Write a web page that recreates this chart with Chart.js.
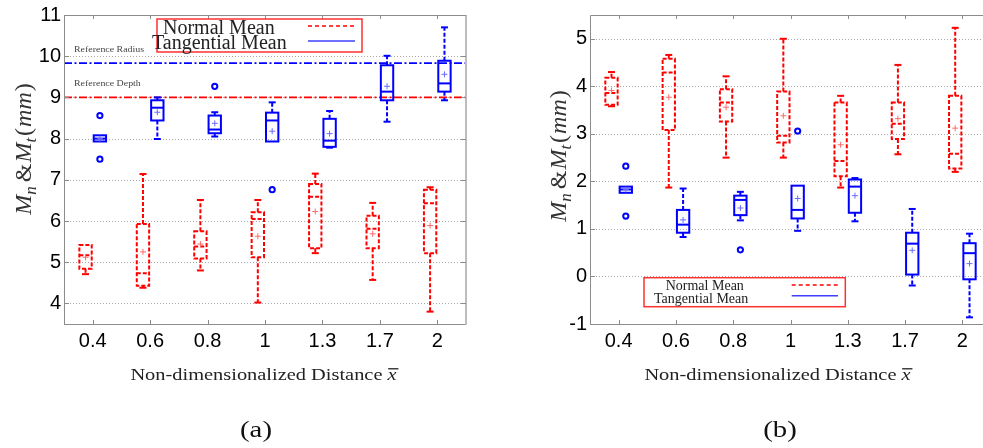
<!DOCTYPE html>
<html><head><meta charset="utf-8">
<script src="https://cdn.jsdelivr.net/npm/chart.js@4.4.0/dist/chart.umd.min.js"></script>
<style>
html,body{margin:0;padding:0;background:#fff;overflow:hidden;width:983px;height:448px;position:relative;}
#ca{position:absolute;left:0;top:0;}
#cb{position:absolute;left:490px;top:0;}
</style></head><body>
<canvas id="ca" width="490" height="448"></canvas>
<canvas id="cb" width="510" height="448"></canvas>
<script>
// ---------- DATA ----------
const categories = ['0.4','0.6','0.8','1','1.3','1.7','2'];

// panel (a): each entry [min, q1, median, q3, max]
const aNormalBox = [[4.71,4.84,5.17,5.42,5.43],[4.38,4.43,4.73,5.93,7.14],[4.80,5.09,5.38,5.75,6.51],[4.02,5.12,6.05,6.21,6.51],[5.22,5.34,6.59,6.90,7.15],[4.57,5.34,5.81,6.13,6.44],[3.80,5.22,6.43,6.76,6.82]];
const aNormalMean = [5.12,5.25,5.44,5.63,6.23,5.69,5.89];
const aNormalOutliers = [[],[],[],[],[],[],[]];
const aTangBox = [[7.93,7.93,8.00,8.08,8.08],[7.99,8.44,8.75,8.93,9.00],[8.05,8.13,8.22,8.56,8.64],[7.93,7.93,8.44,8.63,8.88],[7.78,7.80,7.95,8.48,8.67],[8.41,8.93,9.14,9.78,10.01],[8.93,9.14,9.34,9.89,10.70]];
const aTangMean = [8.00,8.64,8.37,8.18,8.12,9.27,9.56];
const aTangOutliers = [[8.56,7.50],[],[9.27],[6.76],[],[],[]];
const aYTicks = [4,5,6,7,8,9,10,11];
const aRefRadius = 9.83;
const aRefDepth = 9.0;

// panel (b)
const bNormalBox = [[3.58,3.61,3.86,4.18,4.30],[1.87,3.08,4.29,4.58,4.66],[2.50,3.26,3.66,3.94,4.21],[2.50,2.82,2.96,3.89,5.00],[1.87,2.11,2.43,3.66,3.80],[2.57,2.89,3.21,3.66,4.45],[2.20,2.27,2.58,3.80,5.23]];
const bNormalMean = [3.91,3.77,3.56,3.38,2.77,3.32,3.12];
const bNormalOutliers = [[],[],[],[],[],[],[]];
const bTangBox = [[1.76,1.76,1.83,1.89,1.89],[0.83,0.92,1.09,1.40,1.85],[1.18,1.29,1.61,1.70,1.78],[0.96,1.22,1.40,1.91,1.91],[1.16,1.34,1.89,2.04,2.07],[-0.19,0.04,0.69,0.92,1.42],[-0.86,-0.06,0.49,0.70,0.90]];
const bTangMean = [1.83,1.19,1.44,1.64,1.70,0.55,0.27];
const bTangOutliers = [[2.32,1.27],[],[0.56],[3.06],[],[],[]];
const bYTicks = [-1,0,1,2,3,4,5];

const seriesNames = ['Normal Mean','Tangential Mean'];
const xTitle = 'Non-dimensionalized Distance ';
const xTitleVar = 'x';
const refLabels = ['Reference Radius','Reference Depth'];

// ---------- STYLE ----------
const RED = '#ff0000', BLUE = '#0000ff';
const SERIF = '"Liberation Serif", "Times New Roman", serif';
const SANS = '"Liberation Sans", Arial, sans-serif';

function stretchText(ctx, text, x, base, font, sx, align, color) {
  ctx.save();
  ctx.font = font; ctx.fillStyle = color || '#222';
  ctx.textBaseline = 'alphabetic'; ctx.textAlign = 'left';
  const w = ctx.measureText(text).width * sx;
  let x0 = x;
  if (align === 'center') x0 = x - w / 2;
  ctx.translate(x0, base); ctx.scale(sx, 1);
  ctx.fillText(text, 0, 0);
  ctx.restore();
}

function drawXTitle(ctx, cx, base, size, sx) {
  ctx.save();
  const fU = size + 'px ' + SERIF, fI = 'italic ' + size + 'px ' + SERIF;
  ctx.font = fU; const w1 = ctx.measureText(xTitle).width;
  ctx.font = fI; const w2 = ctx.measureText(xTitleVar).width;
  const total = (w1 + w2) * sx;
  ctx.translate(cx - total / 2, base); ctx.scale(sx, 1);
  ctx.fillStyle = '#222'; ctx.textBaseline = 'alphabetic'; ctx.textAlign = 'left';
  ctx.font = fU; ctx.fillText(xTitle, 0, 0);
  ctx.font = fI; ctx.fillText(xTitleVar, w1, 0);
  ctx.strokeStyle = '#222'; ctx.lineWidth = 1.3;
  ctx.beginPath(); ctx.moveTo(w1 + 0.5, -size * 0.66); ctx.lineTo(w1 + w2 + 1.5, -size * 0.66); ctx.stroke();
  ctx.restore();
}

function drawYTitle(ctx, baseX, cy, size) {
  const sm = Math.round(size * 0.7);
  const segs = [
    {t:'M', f:'italic ' + size + 'px ' + SERIF, dy:0, gap:0},
    {t:'n', f:'italic ' + sm + 'px ' + SERIF, dy:size * 0.22, gap:4},
    {t:'&', f:size + 'px ' + SERIF, dy:0, gap:1},
    {t:'M', f:'italic ' + size + 'px ' + SERIF, dy:0, gap:0},
    {t:'t', f:'italic ' + sm + 'px ' + SERIF, dy:size * 0.22, gap:2},
    {t:'(', f:size + 'px ' + SERIF, dy:0, gap:1},
    {t:'mm', f:'italic ' + size + 'px ' + SERIF, dy:0, gap:1},
    {t:')', f:size + 'px ' + SERIF, dy:0, gap:0}
  ];
  ctx.save();
  let L = 0;
  segs.forEach(s => { ctx.font = s.f; s.w = ctx.measureText(s.t).width; L += s.w + s.gap; });
  ctx.translate(baseX, cy); ctx.rotate(-Math.PI / 2);
  ctx.fillStyle = '#333'; ctx.textBaseline = 'alphabetic'; ctx.textAlign = 'left';
  let x = -L / 2;
  segs.forEach(s => { ctx.font = s.f; ctx.fillText(s.t, x, s.dy); x += s.w + s.gap; });
  ctx.restore();
}

function drawLegend(ctx, L) {
  ctx.save();
  ctx.fillStyle = '#fff';
  ctx.fillRect(L.x, L.y, L.w, L.h);
  ctx.strokeStyle = '#ff3030'; ctx.lineWidth = 1.5;
  ctx.strokeRect(L.x, L.y, L.w, L.h);
  ctx.fillStyle = '#222'; ctx.font = L.size + 'px ' + SERIF; ctx.textBaseline = 'alphabetic'; ctx.textAlign = 'left';
  ctx.fillText(seriesNames[0], L.t1x, L.t1y);
  ctx.fillText(seriesNames[1], L.t2x, L.t2y);
  ctx.lineWidth = 1.6;
  ctx.strokeStyle = RED; ctx.setLineDash([4, 3]);
  ctx.beginPath(); ctx.moveTo(L.lx1, L.l1y); ctx.lineTo(L.lx2, L.l1y); ctx.stroke();
  ctx.strokeStyle = '#4040ff'; ctx.setLineDash([]);
  ctx.beginPath(); ctx.moveTo(L.lx1, L.l2y); ctx.lineTo(L.lx2, L.l2y); ctx.stroke();
  ctx.restore();
}

function makePlugin(cfg) {
  return {
    id: 'boxdraw',
    beforeDatasetsDraw(chart) {
      const {ctx, chartArea: a, scales: {y}} = chart;
      ctx.save();
      ctx.strokeStyle = '#aaaaaa'; ctx.lineWidth = 1; ctx.setLineDash([1, 2]);
      y.ticks.forEach(t => {
        const py = Math.round(y.getPixelForValue(t.value)) + 0.5;
        ctx.beginPath(); ctx.moveTo(a.left, py); ctx.lineTo(a.right, py); ctx.stroke();
      });
      (cfg.refLines || []).forEach(r => {
        const py = y.getPixelForValue(r.v);
        ctx.strokeStyle = r.c; ctx.lineWidth = 1.8; ctx.setLineDash([8, 2.5, 2, 2.5]);
        ctx.beginPath(); ctx.moveTo(a.left, py); ctx.lineTo(a.right, py); ctx.stroke();
      });
      ctx.restore();
    },
    afterDatasetsDraw(chart) {
      const {ctx, scales: {y}} = chart;
      ctx.save();
      chart.data.datasets.forEach((ds, di) => {
        const meta = chart.getDatasetMeta(di);
        meta.data.forEach((bar, i) => {
          const b = ds.box[i];
          const cx = bar.x, hw = bar.width / 2;
          const pMin = y.getPixelForValue(b[0]), pQ1 = y.getPixelForValue(b[1]), pMed = y.getPixelForValue(b[2]),
                pQ3 = y.getPixelForValue(b[3]), pMax = y.getPixelForValue(b[4]);
          ctx.strokeStyle = ds.color; ctx.lineWidth = 2;
          const dash = [4, 2];
          // whiskers
          ctx.setLineDash(dash);
          if (pQ3 - pMax > 0.5) { ctx.beginPath(); ctx.moveTo(cx, pQ3); ctx.lineTo(cx, pMax); ctx.stroke(); }
          if (pMin - pQ1 > 0.5) { ctx.beginPath(); ctx.moveTo(cx, pQ1); ctx.lineTo(cx, pMin); ctx.stroke(); }
          ctx.setLineDash([]);
          const cap = 3.5;
          if (pQ3 - pMax > 0.5) { ctx.beginPath(); ctx.moveTo(cx - cap, pMax); ctx.lineTo(cx + cap, pMax); ctx.stroke(); }
          if (pMin - pQ1 > 0.5) { ctx.beginPath(); ctx.moveTo(cx - cap, pMin); ctx.lineTo(cx + cap, pMin); ctx.stroke(); }
          // box
          ctx.setLineDash(ds.dashedBox ? dash : []);
          ctx.strokeRect(cx - hw + 1, pQ3, 2 * hw - 2, pQ1 - pQ3);
          ctx.beginPath(); ctx.moveTo(cx - hw + 1, pMed); ctx.lineTo(cx + hw - 1, pMed); ctx.stroke();
          ctx.setLineDash([]);
          // mean
          const pm = y.getPixelForValue(ds.mean[i]);
          ctx.strokeStyle = ds.meanColor; ctx.lineWidth = 1;
          ctx.beginPath(); ctx.moveTo(cx - 3, pm); ctx.lineTo(cx + 3, pm); ctx.moveTo(cx, pm - 3); ctx.lineTo(cx, pm + 3); ctx.stroke();
          // outliers
          ctx.strokeStyle = ds.color; ctx.lineWidth = 2;
          ds.outliers[i].forEach(v => {
            const po = y.getPixelForValue(v);
            ctx.beginPath(); ctx.arc(cx, po, 2.6, 0, Math.PI * 2); ctx.stroke();
          });
        });
      });
      ctx.restore();
    },
    afterDraw(chart) {
      const {ctx, chartArea: a, scales: {x, y}} = chart;
      ctx.save();
      // frame
      ctx.strokeStyle = '#8c8c8c'; ctx.lineWidth = 1; ctx.setLineDash([]);
      ctx.beginPath();
      ctx.moveTo(a.left + 0.5, a.bottom + 0.5); ctx.lineTo(a.left + 0.5, a.top + 0.5); ctx.lineTo(a.right, a.top + 0.5);
      ctx.moveTo(a.left, a.bottom + 0.5); ctx.lineTo(a.right, a.bottom + 0.5);
      ctx.stroke();
      ctx.strokeStyle = '#bdbdbd'; ctx.lineWidth = 2;
      ctx.beginPath(); ctx.moveTo(a.right, a.top); ctx.lineTo(a.right, a.bottom + 1); ctx.stroke();
      // inward ticks
      ctx.strokeStyle = '#8c8c8c'; ctx.lineWidth = 1;
      ctx.beginPath();
      categories.forEach((c, i) => {
        const px = Math.round(x.getPixelForValue(i)) + 0.5;
        ctx.moveTo(px, a.bottom); ctx.lineTo(px, a.bottom - 4);
        ctx.moveTo(px, a.top); ctx.lineTo(px, a.top + 4);
      });
      y.ticks.forEach(t => {
        const py = Math.round(y.getPixelForValue(t.value)) + 0.5;
        ctx.moveTo(a.left, py); ctx.lineTo(a.left + 5, py);
        ctx.moveTo(a.right, py); ctx.lineTo(a.right - 5, py);
      });
      ctx.stroke();
      ctx.restore();
      // reference labels
      if (cfg.refLines) {
        cfg.refLines.forEach(r => {
          stretchText(ctx, r.label, r.lx, r.ly, '9px ' + SERIF, 1.1, 'left', '#444');
        });
      }
      drawLegend(ctx, cfg.legend);
      drawYTitle(ctx, cfg.yTitleX, cfg.yTitleY, 24);
      drawXTitle(ctx, cfg.xTitleX, 380, 17, 1.2);
      stretchText(ctx, cfg.caption, cfg.capX, 437, '23px ' + SERIF, 1.25, 'center', '#111');
    }
  };
}

function makePanel(id, P) {
  const W = P.width, H = 448;
  const xh = 40;
  return new Chart(document.getElementById(id), {
    type: 'bar',
    data: {
      labels: categories,
      datasets: [
        {label: seriesNames[0], data: P.normal.map(b => [b[1], b[3]]), backgroundColor: 'rgba(0,0,0,0)', borderWidth: 0,
         box: P.normal, mean: P.normalMean, outliers: P.normalOut, color: RED, meanColor: '#ff6a6a', dashedBox: true},
        {label: seriesNames[1], data: P.tang.map(b => [b[1], b[3]]), backgroundColor: 'rgba(0,0,0,0)', borderWidth: 0,
         box: P.tang, mean: P.tangMean, outliers: P.tangOut, color: BLUE, meanColor: '#6a6aff', dashedBox: false}
      ]
    },
    options: {
      responsive: false, animation: false, devicePixelRatio: 1, events: [],
      layout: {padding: {left: 0, top: P.top, right: W - P.right, bottom: H - P.bottom - xh}},
      plugins: {legend: {display: false}, tooltip: {enabled: false}},
      datasets: {bar: {categoryPercentage: 0.5, barPercentage: 1.0}},
      scales: {
        x: {
          type: 'category', offset: true,
          grid: {display: false, drawTicks: false}, border: {display: false},
          ticks: {font: {family: SANS, size: 20}, color: '#000', padding: 5, maxRotation: 0, autoSkip: false},
          afterFit(s) { s.height = xh; }
        },
        y: {
          type: 'linear', min: P.min, max: P.max,
          grid: {display: false, drawTicks: false}, border: {display: false},
          ticks: {font: {family: SANS, size: 20}, color: '#000', padding: 3},
          afterBuildTicks(s) { s.ticks = P.yTicks.map(v => ({value: v})); },
          afterFit(s) { s.width = P.left; }
        }
      }
    },
    plugins: [makePlugin(P.cfg)]
  });
}

makePanel('ca', {
  width: 490, left: 64, right: 466, top: 7, bottom: 324, min: 3.5, max: 11, yTicks: aYTicks,
  normal: aNormalBox, normalMean: aNormalMean, normalOut: aNormalOutliers,
  tang: aTangBox, tangMean: aTangMean, tangOut: aTangOutliers,
  cfg: {
    refLines: [
      {v: aRefRadius, c: BLUE, label: refLabels[0], lx: 74, ly: 52},
      {v: aRefDepth, c: RED, label: refLabels[1], lx: 74, ly: 86}
    ],
    legend: {x: 157, y: 19, w: 205, h: 33, size: 20, t1x: 163, t1y: 33.5, t2x: 152, t2y: 49, lx1: 308, lx2: 355, l1y: 26, l2y: 41},
    yTitleX: 30.5, yTitleY: 149, xTitleX: 263.5, caption: '(a)', capX: 256
  }
});

makePanel('cb', {
  width: 510, left: 100, right: 501, top: 7, bottom: 324, min: -1, max: 5.5, yTicks: bYTicks,
  normal: bNormalBox, normalMean: bNormalMean, normalOut: bNormalOutliers,
  tang: bTangBox, tangMean: bTangMean, tangOut: bTangOutliers,
  cfg: {
    legend: {x: 154, y: 277.7, w: 201.3, h: 29, size: 14, t1x: 175.7, t1y: 290, t2x: 164, t2y: 302.5, lx1: 301.7, lx2: 348, l1y: 285, l2y: 295.7},
    yTitleX: 76, yTitleY: 156, xTitleX: 287.5, caption: '(b)', capX: 290
  }
});
</script>
</body></html>
